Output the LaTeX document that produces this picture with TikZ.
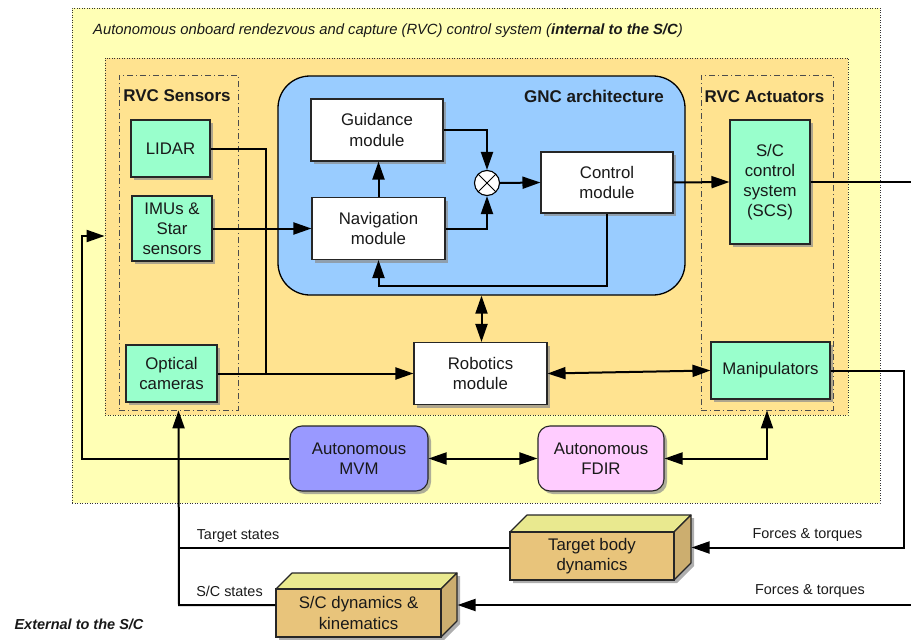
\documentclass[tikz,border=0pt]{standalone}
\usepackage{fontspec}
\setmainfont{Liberation Sans}
\usetikzlibrary{arrows.meta,shadows,calc}

\definecolor{sysyellow}{HTML}{FFFFB5}
\definecolor{rvcorange}{HTML}{FFE390}
\definecolor{gncblue}{HTML}{99CCFF}
\definecolor{mint}{HTML}{99FFCC}
\definecolor{mvmblue}{HTML}{9999FF}
\definecolor{fdirpink}{HTML}{FFCCFF}
\definecolor{cubefront}{HTML}{E8C47B}
\definecolor{cubetop}{HTML}{E9E98F}
\definecolor{cubeside}{HTML}{CCAE6F}

\begin{document}
\begin{tikzpicture}[x=1pt,y=-1pt,
  every node/.style={font=\fontsize{16.8}{20.2}\selectfont, align=center, inner sep=0pt, text=black!90},
  shade3/.style={drop shadow={shadow xshift=3pt,shadow yshift=-3pt,fill=black!45,opacity=.7}},
  modbox/.style={draw=black!85, line width=1.1pt, fill=white, shade3},
  hwbox/.style={modbox, fill=mint},
  roundbox/.style={modbox, rounded corners=12pt},
  dotframe/.style={draw=black!80, line width=0.8pt, dash pattern=on 1pt off 1.5pt},
  dashdotframe/.style={draw=black!70, line width=0.8pt, dash pattern=on 6pt off 3pt on 1pt off 3pt},
  heading/.style={font=\fontsize{17}{20}\selectfont\bfseries},
  lbl/.style={font=\fontsize{14.4}{17}\selectfont},
  conn/.style={line width=2pt, draw=black},
  arr/.style={conn, -{Triangle[length=18pt,width=12pt]}},
  darr/.style={conn, {Triangle[length=18pt,width=12pt]}-{Triangle[length=18pt,width=12pt]}},
  cube/.style={draw=black!85, line width=1.1pt, line join=round}
]
\useasboundingbox (0,0) rectangle (911,640);

% ---------- frames ----------
\node[dotframe, fill=sysyellow, minimum width=808pt, minimum height=495pt] (outer) at (476,255.5) {};
\node[anchor=west, font=\fontsize{14.8}{17}\selectfont\itshape] (title) at (93,31)
  {Autonomous onboard rendezvous and capture (RVC) control system (\textbf{internal to the S/C})};
\node[dotframe, fill=rvcorange, minimum width=743pt, minimum height=357pt] (inner) at (476.5,236.5) {};
\node[dashdotframe, minimum width=119pt, minimum height=335pt] (sensbox) at (178.5,242.5) {};
\node[dashdotframe, minimum width=132pt, minimum height=335pt] (actbox) at (767,242.5) {};
\node[heading] (senshead) at (177,96) {RVC Sensors};
\node[heading] (acthead) at (764.5,97) {RVC Actuators};

% ---------- GNC architecture ----------
\node[draw=black, line width=1.3pt, fill=gncblue, rounded corners=32pt,
      minimum width=407pt, minimum height=219pt] (gnc) at (481.5,185.5) {};
\node[heading] (gnchead) at (594,96) {GNC architecture};
\node[modbox, minimum width=132pt, minimum height=62pt] (guid) at (377,130) {Guidance\\module};
\node[modbox, minimum width=133pt, minimum height=62pt] (nav) at (378.5,228.5) {Navigation\\module};
\node[modbox, minimum width=132pt, minimum height=61pt] (ctrl) at (607,182.5) {Control\\module};
\node[draw=black, line width=1.1pt, fill=white, circle, minimum size=25pt,
      path picture={\draw[line width=0.9pt] (path picture bounding box.north east) -- (path picture bounding box.south west)
                                              (path picture bounding box.north west) -- (path picture bounding box.south east);}]
      (sum) at (487,183) {};

% ---------- sensors / actuators ----------
\node[hwbox, minimum width=79pt, minimum height=57pt] (lidar) at (170.5,148.5) {LIDAR};
\node[hwbox, minimum width=80pt, minimum height=65pt] (imu) at (172,228.5) {IMUs \&\\Star\\sensors};
\node[hwbox, minimum width=91pt, minimum height=57pt] (optcam) at (171.5,373.5) {Optical\\cameras};
\node[hwbox, minimum width=80pt, minimum height=124pt] (scs) at (770,182) {S/C\\control\\system\\(SCS)};
\node[hwbox, minimum width=119pt, minimum height=57pt] (manip) at (770.5,370.5) {Manipulators};
\node[modbox, minimum width=133pt, minimum height=62pt] (robot) at (480.5,373.5) {Robotics\\module};

% ---------- MVM / FDIR ----------
\node[roundbox, fill=mvmblue, minimum width=138pt, minimum height=65pt] (mvm) at (359,458.5) {Autonomous\\MVM};
\node[roundbox, fill=fdirpink, minimum width=126pt, minimum height=65pt] (fdir) at (601,458.5) {Autonomous\\FDIR};

% ---------- external dynamics (cuboids) ----------
% target body: front face (510,532)-(674,580), depth 17
\fill[black!45, opacity=.7] (513,583) -- (513,535) -- (530,518) -- (694,518) -- (694,566) -- (677,583) -- cycle;
\filldraw[cube, fill=cubetop] (510,532) -- (527,515) -- (691,515) -- (674,532) -- cycle;
\filldraw[cube, fill=cubeside] (674,532) -- (691,515) -- (691,563) -- (674,580) -- cycle;
\node[draw=black!85, line width=1.1pt, fill=cubefront, minimum width=164pt, minimum height=48pt] (tbd) at (592,556) {Target body\\dynamics};
% spacecraft: front face (276,589)-(441,637), depth 16
\fill[black!45, opacity=.7] (279,640) -- (279,592) -- (295,576) -- (460,576) -- (460,624) -- (444,640) -- cycle;
\filldraw[cube, fill=cubetop] (276,589) -- (292,573) -- (457,573) -- (441,589) -- cycle;
\filldraw[cube, fill=cubeside] (441,589) -- (457,573) -- (457,621) -- (441,637) -- cycle;
\node[draw=black!85, line width=1.1pt, fill=cubefront, minimum width=165pt, minimum height=48pt] (scdyn) at (358.5,613) {S/C dynamics \&\\kinematics};

\coordinate (tbdL) at ($(tbd.west)+(0,-8.5)$);
\coordinate (tbdR) at ($(tbd.east)+(17,-8.5)$);
\coordinate (scdL) at ($(scdyn.west)+(0,-8)$);
\coordinate (scdR) at ($(scdyn.east)+(16,-8)$);
\coordinate (sysout) at (911,182);
\coordinate (forcesin) at (911,605);
\coordinate (camjoin) at (266,373.5);
\coordinate (mvmturn) at (82,236);
\coordinate (manipturn) at (904,370.5);
\coordinate (statesturn) at (179,605);
\coordinate (fbturn) at (607,286);

% ---------- connectors ----------
\draw[arr] (guid.east) -| (sum.north);
\draw[arr] (nav.east) -| (sum.south);
\draw[arr] (nav.north) -- (nav.north |- guid.south);
\draw[arr] (sum.east) -- (ctrl.west);
\draw[arr] (ctrl.south) -- (fbturn) -| (nav.south);
\draw[arr] (ctrl.east) -- (scs.west);
\draw[conn] (scs.east) -- (sysout);
\draw[arr] (imu.east) -- (nav.west |- imu.east);
\draw[conn] (lidar.east) -| (camjoin);
\draw[arr] (optcam.east) -- (robot.west);
\draw[darr] (gnc.south) -- (gnc.south |- robot.north);
\draw[darr] (robot.east) -- (manip.west);
\draw[darr] (mvm.east) -- (fdir.west);
\draw[darr] (fdir.east) -| (actbox.south);
\draw[arr] (mvm.west) -| (mvmturn) -- (inner.west |- mvmturn);
\draw[arr] (manip.east) -- (manipturn) |- (tbdR);
\draw[arr] (forcesin) -- (scdR);
\draw[conn] (tbdL) -- (statesturn |- tbdL);
\draw[arr] (scdL) -- (statesturn) -- (sensbox.south);

% ---------- labels ----------
\node[lbl] (lbltgt) at (238,536) {Target states};
\node[lbl] (lblsc) at (229.5,591) {S/C states};
\node[lbl] (lblf1) at (807.5,535) {Forces \& torques};
\node[lbl] (lblf2) at (810,591) {Forces \& torques};
\node[font=\fontsize{14.5}{17}\selectfont\bfseries\itshape] (ext) at (79,624) {External to the S/C};
\end{tikzpicture}
\end{document}
